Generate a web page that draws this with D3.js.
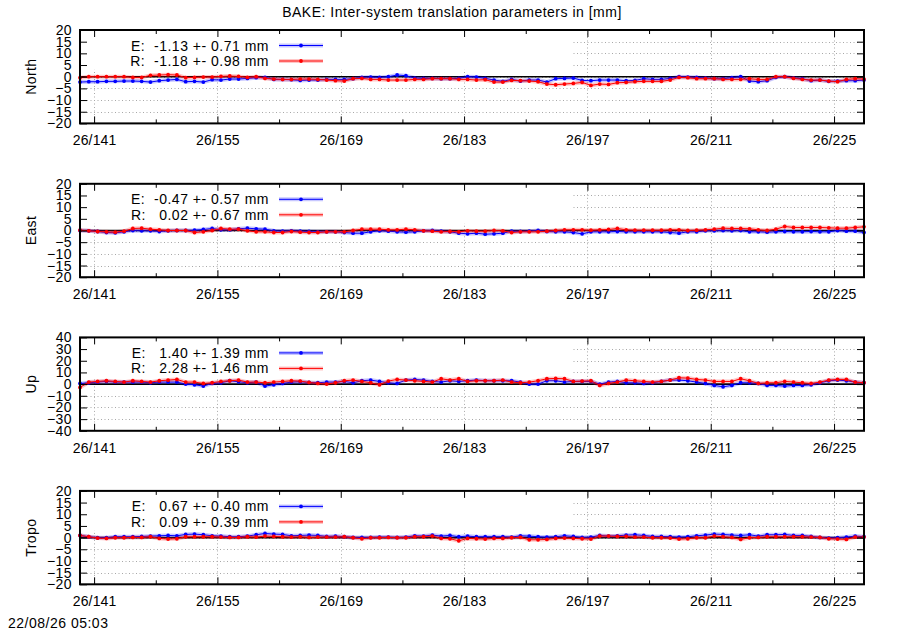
<!DOCTYPE html>
<html><head><meta charset="utf-8">
<script src="https://cdn.jsdelivr.net/npm/d3@7/dist/d3.min.js"></script>
<style>
html,body{margin:0;padding:0;background:#fff;}
text{font-family:"Liberation Sans",Arial,sans-serif;}
</style></head>
<body><svg id="c" width="900" height="630"></svg>
<script>
// ---- data ----
const dayStart = 139.4;           // first sample (day of year)
const nDays = 90;
const majorTicks = [141,155,169,183,197,211,225];
const minorTicks = [148,162,176,190,204,218];
const tickLabels = ["26/141","26/155","26/169","26/183","26/197","26/211","26/225"];
const panelNames = ["North","East","Up","Tropo"];
const legendE = ["E:  -1.13 +- 0.71 mm","E:  -0.47 +- 0.57 mm","E:   1.40 +- 1.39 mm","E:   0.67 +- 0.40 mm"];
const legendR = ["R:  -1.18 +- 0.98 mm","R:   0.02 +- 0.67 mm","R:   2.28 +- 1.46 mm","R:   0.09 +- 0.39 mm"];
const yLimits = [20,20,40,20];
const yStep = [5,5,10,5];
const title = "BAKE: Inter-system translation parameters in [mm]";
const stamp = "22/08/26 05:03";

const northE = [-2.29,-2.15,-2.15,-2.0,-2.0,-1.86,-1.86,-2.0,-2.29,-1.72,
 -1.43,-1.15,-2.15,-2.0,-2.29,-1.29,-1.43,-1.0,-1.0,-0.72,
 -0.43,-0.29,-1.15,-1.15,-1.29,-1.6,-1.43,-1.43,-1.15,-1.15,
 -1.15,-0.86,-0.29,-0.14,-0.29,0,0.72,0.43,-0.57,-0.72,
 -0.72,-0.86,-0.86,-0.72,0,-0.14,-0.72,-1.43,-2.0,-1.15,
 -1.86,-1.43,-1.43,-2.29,-0.86,-0.72,-0.57,-1.58,-1.72,-1.43,
 -1.43,-1.43,-1.72,-1.58,-0.86,-1.15,-1.15,-0.72,0,-0.14,
 -0.29,-0.57,-0.86,-0.86,-0.43,0,-1.86,-2.15,-1.72,-0.29,
 0,-0.57,-0.86,-1.72,-1.43,-2.0,-1.86,-1.72,-1.72,-1.43];
const northR = [-0.43,0,0,0,0,0,-0.29,-0.29,0.57,0.72,
 0.86,0.72,-0.43,-0.29,-0.14,-0.14,0.14,0.29,0.14,-0.29,
 0,-0.72,-1.0,-1.15,-1.15,-1.0,-1.0,-1.15,-1.43,-1.72,
 -1.86,-0.86,-0.72,-1.15,-1.15,-1.43,-1.43,-1.43,-1.15,-1.15,
 -0.86,-0.86,-0.86,-1.15,-1.15,-1.43,-1.29,-2.29,-2.29,-1.58,
 -1.72,-1.86,-2.15,-3.15,-3.44,-3.15,-2.87,-2.44,-3.73,-3.15,
 -3.3,-2.58,-2.44,-2.15,-2.0,-2.0,-2.0,-1.43,-0.29,-0.43,
 -0.86,-0.86,-0.86,-1.15,-1.15,-1.15,-0.86,-1.15,-1.15,0,
 0,-0.72,-1.15,-1.43,-1.43,-1.86,-2.15,-1.15,-0.86,-1.0];
const eastE = [0,-0.14,-0.43,-0.86,-1.0,-0.57,0,-0.14,-0.14,-0.43,
 -0.14,0,0,0.14,0.43,0.86,0.29,0.29,0.72,1.0,
 0.72,0.57,-0.14,-0.29,-0.14,-0.29,-0.43,-0.57,-0.57,-0.57,
 -0.86,-1.15,-1.15,-0.57,-0.14,-0.29,-0.57,-0.72,-0.57,-0.14,
 0,-0.29,-0.57,-1.15,-1.43,-1.15,-1.58,-1.43,-1.15,-0.29,
 -0.43,-0.29,0,-0.43,-0.57,-0.57,-0.86,-1.43,-0.57,-0.57,
 -0.57,-0.43,-0.57,-0.57,-0.57,-0.57,-0.57,-0.86,-1.15,-0.57,
 -0.57,-0.14,-0.14,0,-0.14,0,-0.57,-0.57,-0.72,-0.57,
 -0.43,-0.57,-0.57,-0.43,-0.57,-0.57,0,-0.29,-0.29,-0.86];
const eastR = [0.14,-0.14,-0.43,-0.57,-0.72,-0.29,0.86,1.0,0.57,0.29,
 0,0,0,-0.86,-0.57,0,0.86,0.57,0.57,-0.14,
 -0.57,-0.57,-0.86,-0.86,-0.43,-0.72,-0.86,-0.86,-0.57,-0.57,
 -0.57,0,0.57,0.57,0.57,0.29,0.29,0.57,0.29,-0.14,
 -0.29,-0.57,-0.43,-0.57,-0.14,-0.29,-0.29,0,-0.14,-0.86,
 -0.57,-0.57,-0.57,-0.29,0,0.29,0.29,0.29,0.14,0.29,
 0.43,0.86,0.29,0.14,0.14,0.14,0.14,0.29,0.29,0,
 0.14,0.29,0.57,1.0,0.86,0.86,0.72,0.29,0,0.57,
 1.72,1.29,1.29,1.29,1.29,1.15,1.0,1.0,1.29,1.58];
const upE = [0.57,1.14,1.71,2.29,1.71,1.71,1.71,1.71,1.14,1.71,
 1.71,1.71,0,-0.57,-1.71,0.57,1.14,2.86,2.0,1.14,
 1.71,-1.71,-0.57,0.57,1.71,2.0,1.43,1.14,1.71,1.71,
 2.29,1.14,2.86,3.43,2.29,1.14,0.57,3.43,4.0,3.43,
 2.29,1.71,2.86,2.29,2.86,3.43,2.86,2.86,2.86,2.86,
 1.71,0,0,2.86,2.86,1.71,2.29,2.29,2.29,0,
 1.71,2.29,1.14,1.14,0.57,1.14,2.29,3.43,3.43,2.86,
 1.71,0.57,-1.14,-2.29,-1.14,1.14,1.14,0.57,-1.14,-1.14,
 -1.71,-1.14,-1.14,-0.57,1.14,2.86,3.43,2.86,1.71,1.14];
const upR = [-2.86,1.71,2.29,2.86,2.29,1.71,2.86,2.29,1.71,2.86,
 3.43,4.0,1.71,1.71,0.57,1.14,2.29,2.86,3.43,1.71,
 1.71,1.14,1.71,2.29,2.86,2.57,1.43,0.57,0,1.14,
 2.86,3.43,2.29,1.14,-0.57,2.57,4.0,3.43,2.86,2.29,
 1.71,4.57,3.43,4.57,2.29,2.86,2.86,2.86,3.43,1.71,
 1.14,1.71,2.86,4.57,4.86,4.57,2.29,2.57,2.86,-1.14,
 0.57,1.71,3.43,2.86,2.29,1.71,2.29,3.43,5.43,5.14,
 4.0,3.43,2.29,2.29,2.29,4.57,2.86,0.57,1.14,1.14,
 2.29,1.71,1.14,0.57,1.71,3.43,4.0,4.0,1.71,1.14];
const tropoE = [0.93,0.36,-0.07,-0.07,0.36,0.36,0.36,0.5,0.64,0.78,
 0.93,0.78,1.35,1.5,1.21,0.78,0.64,0.36,0.36,0.64,
 1.21,1.78,1.5,1.35,0.78,0.93,1.07,0.93,0.5,0.64,
 0.36,0.07,0.07,0.07,0.21,0.21,0.07,0.21,0.78,0.64,
 1.07,0.64,0.93,0.36,0.64,0.36,0.36,0.36,0.36,0.21,
 0.78,0.64,0.36,0.21,0.36,0.78,0.5,0.07,0.21,0.93,
 0.64,0.78,1.07,1.21,0.93,0.5,0.5,0.36,0.21,0.36,
 0.78,1.07,1.5,1.35,1.07,0.93,1.21,0.64,1.21,1.21,
 1.35,0.93,0.93,0.5,0.07,-0.21,-0.07,0.21,0.64,0.36];
const tropoR = [0.93,0.36,-0.21,-0.36,-0.07,-0.07,0.07,0.07,0.36,-0.36,
 -0.64,-0.5,0.36,0.36,0.36,0.36,0.21,0.07,0.07,0.36,
 0.21,0.64,0.5,0.36,0.21,0.36,0.07,0.21,0.21,0.21,
 0.36,-0.07,-0.5,-0.07,-0.07,0.07,-0.07,-0.07,0.36,0.36,
 0.64,-0.36,-0.5,-1.35,-0.36,-0.5,-0.64,-0.36,-0.36,-0.07,
 0.07,-0.93,-0.93,-0.78,-0.36,-0.21,-0.36,-0.5,-0.64,0.64,
 0.64,0.5,0.5,0.21,0.21,-0.07,-0.07,-0.21,-0.64,-0.5,
 -0.07,-0.07,0.64,0.36,0.07,-0.78,-0.07,0.07,0.36,0.36,
 0.36,0.36,0.36,0.21,0.07,-0.5,-0.64,-0.78,0.21,0.21];
const seriesE = [northE, eastE, upE, tropoE];
const seriesR = [northR, eastR, upR, tropoR];

// ---- layout ----
const svg = d3.select("#c");
const X0 = 80, X1 = 864;
const panelTops = [30, 183.8, 337.4, 490.9];
const panelH = 93.4;
const keyRight = 573;
const days = d3.range(nDays).map(i => dayStart + i);
const x = d3.scaleLinear().domain([dayStart, dayStart + nDays - 1]).range([X0, X1]);
const blue = "#0000ff", red = "#ff0000";
const FONT = 14;

svg.append("text").attr("x", 452).attr("y", 17).attr("text-anchor", "middle")
  .attr("font-size", FONT).attr("letter-spacing", 0.5).text(title);
svg.append("text").attr("x", 8).attr("y", 628).attr("font-size", FONT)
  .attr("letter-spacing", 0.5).text(stamp);

panelNames.forEach((name, p) => {
  const top = panelTops[p], bot = top + panelH;
  const lim = yLimits[p];
  const y = d3.scaleLinear().domain([-lim, lim]).range([bot, top]);
  const yt = d3.range(-lim, lim + 0.001, yStep[p]);
  const g = svg.append("g");

  // grid
  const grid = g.append("g").attr("stroke", "#a8a8a8").attr("stroke-width", 1)
    .attr("stroke-dasharray", "1,2.5");
  grid.selectAll("line.h").data(yt.filter(v => v > -lim && v < lim)).join("line")
    .attr("x1", X0).attr("x2", X1).attr("y1", d => Math.round(y(d)) + 0.5).attr("y2", d => Math.round(y(d)) + 0.5);
  grid.selectAll("line.v").data(majorTicks).join("line")
    .attr("x1", d => Math.round(x(d)) + 0.5).attr("x2", d => Math.round(x(d)) + 0.5).attr("y1", top).attr("y2", bot);

  // opaque key box
  g.append("rect").attr("x", X0 + 1).attr("y", top + 1).attr("width", keyRight - X0 - 1)
    .attr("height", (y(0) - top) - 8).attr("fill", "#fff");

  // zero line
  g.append("line").attr("x1", X0).attr("x2", X1).attr("y1", y(0)).attr("y2", y(0))
    .attr("stroke", "#000").attr("stroke-width", 1.6);

  // data
  const drawSeries = (vals, col) => {
    const pts = vals.map((v, i) => [days[i], v]);
    const line = d3.line().x(d => x(d[0])).y(d => y(d[1]));
    g.append("path").attr("d", line(pts)).attr("fill", "none").attr("stroke", col)
      .attr("stroke-opacity", 0.22).attr("stroke-width", 4).attr("stroke-linejoin", "round");
    g.append("path").attr("d", line(pts)).attr("fill", "none").attr("stroke", col)
      .attr("stroke-width", 1);
    g.selectAll(null).data(pts).join("circle").attr("cx", d => x(d[0])).attr("cy", d => y(d[1]))
      .attr("r", 1.9).attr("fill", col);
  };
  drawSeries(seriesE[p], blue);
  drawSeries(seriesR[p], red);

  // axes
  const yL = g.append("g").attr("transform", `translate(${X0},0)`)
    .call(d3.axisLeft(y).tickValues(yt).tickSize(-7).tickPadding(8).tickFormat(d3.format("d")));
  const yR = g.append("g").attr("transform", `translate(${X1},0)`)
    .call(d3.axisRight(y).tickValues(yt.filter(v => v > -lim && v < lim)).tickSize(-7).tickFormat(""));
  const xB = g.append("g").attr("transform", `translate(0,${bot})`)
    .call(d3.axisBottom(x).tickValues(majorTicks).tickSize(-7).tickPadding(12)
      .tickFormat((d, i) => tickLabels[i]));
  const xBm = g.append("g").attr("transform", `translate(0,${bot})`)
    .call(d3.axisBottom(x).tickValues(minorTicks).tickSize(-4).tickFormat(""));
  const xT = g.append("g").attr("transform", `translate(0,${top})`)
    .call(d3.axisTop(x).tickValues(majorTicks).tickSize(-7).tickFormat(""));
  const xTm = g.append("g").attr("transform", `translate(0,${top})`)
    .call(d3.axisTop(x).tickValues(minorTicks).tickSize(-4).tickFormat(""));
  [yL, yR, xB, xBm, xT, xTm].forEach(a => {
    a.select(".domain").remove();
    a.selectAll("line").attr("stroke", "#000").attr("stroke-width", 1);
    a.selectAll("text").attr("font-size", FONT).attr("fill", "#000")
      .attr("font-family", '"Liberation Sans",Arial,sans-serif');
  });
  xB.selectAll("text").attr("letter-spacing", 0.15);
  yL.selectAll("text").attr("letter-spacing", 0.4);

  // border
  g.append("rect").attr("x", X0).attr("y", top).attr("width", X1 - X0).attr("height", panelH)
    .attr("fill", "none").attr("stroke", "#000").attr("stroke-width", 2);

  // y title
  g.append("text").attr("transform", `translate(36,${(top + bot) / 2}) rotate(-90)`)
    .attr("text-anchor", "middle").attr("font-size", FONT).attr("letter-spacing", 0.4).text(name);

  // legend
  const rows = [[legendE[p], blue, 15.5], [legendR[p], red, 31]];
  rows.forEach(([txt, col, dy]) => {
    const cy = top + dy;
    g.append("text").attr("x", 269).attr("y", cy + 5).attr("text-anchor", "end")
      .attr("font-size", FONT).attr("letter-spacing", 0.5).style("white-space", "pre").text(txt);
    g.append("line").attr("x1", 279).attr("x2", 323).attr("y1", cy).attr("y2", cy)
      .attr("stroke", col).attr("stroke-opacity", 0.22).attr("stroke-width", 4);
    g.append("line").attr("x1", 279).attr("x2", 323).attr("y1", cy).attr("y2", cy)
      .attr("stroke", col).attr("stroke-width", 1);
    g.append("circle").attr("cx", 301).attr("cy", cy).attr("r", 1.9).attr("fill", col);
  });
});
</script></body></html>
